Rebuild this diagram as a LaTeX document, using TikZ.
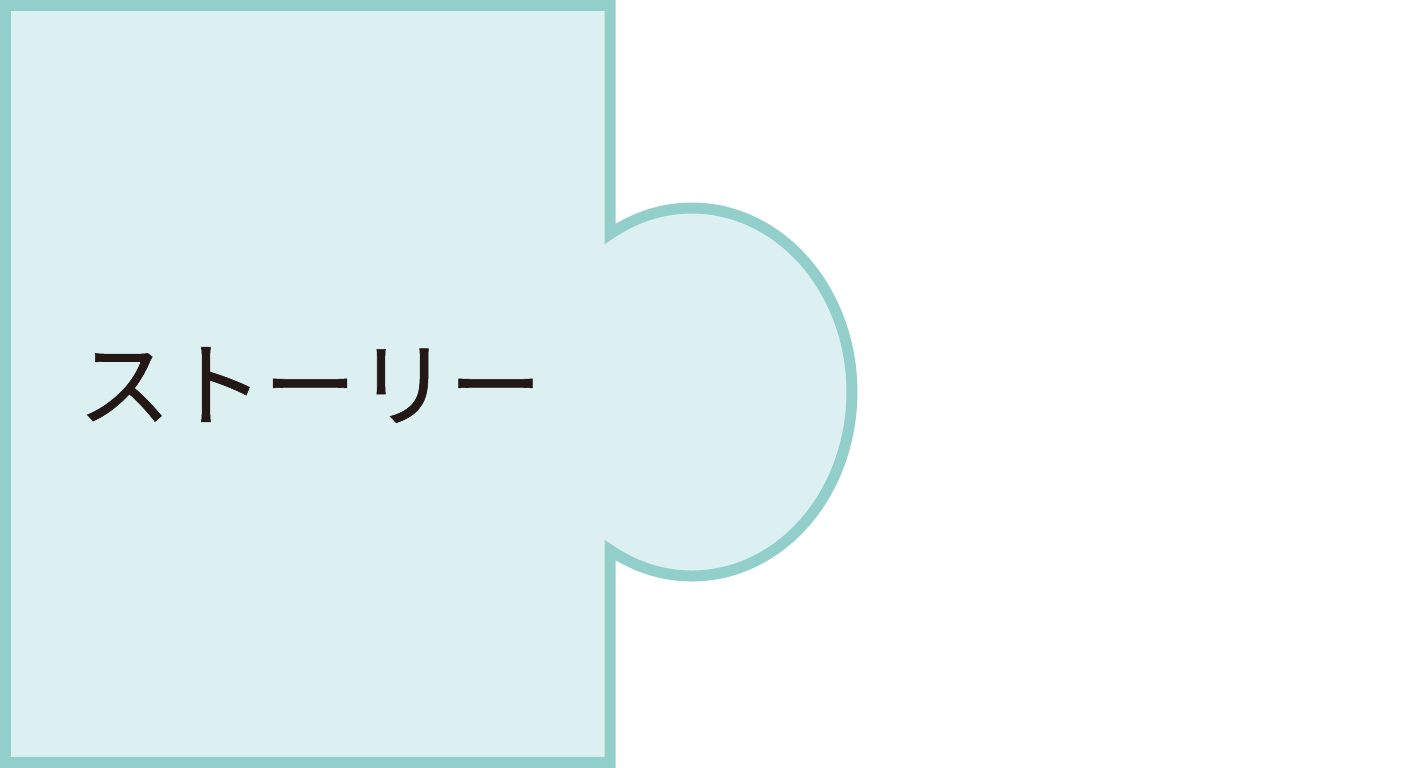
\documentclass[tikz,border=0pt]{standalone}
\usepackage{fontspec}
\newfontfamily\jpfont[FakeBold=0.6]{Noto Sans CJK JP}
\definecolor{tabline}{HTML}{93CFCA}
\definecolor{tabfill}{HTML}{DDF0F1}
\definecolor{inkdark}{HTML}{231816}
\tikzset{piece/.style={draw=tabline,fill=tabfill,line width=0.11cm,line join=miter}}
\begin{document}
\begin{tikzpicture}
\useasboundingbox (0,0) rectangle (14.08,7.68);
%Manh ghep
\draw[piece] (0.055,7.625) -- (6.10,7.625) -- (6.10,5.34)
  arc[start angle=120.8,end angle=-120.8,x radius=1.60cm,y radius=1.84cm]
  -- (6.10,0.055) -- (0.055,0.055) -- cycle;
%Chu
\node[text=inkdark,font=\jpfont\fontsize{26.4pt}{30pt}\selectfont] (story) at (3.10,3.83) {ストーリー};
\end{tikzpicture}
\end{document}
